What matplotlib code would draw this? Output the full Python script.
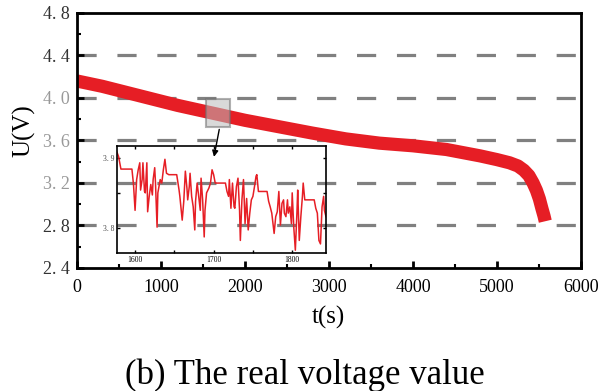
import matplotlib
matplotlib.use("Agg")
import matplotlib.pyplot as plt
from matplotlib.patches import Rectangle

# main discharge curve
t_main = [0, 300, 600, 900, 1200, 1600, 2000, 2400, 2800, 3200, 3600, 4000,
          4400, 4800, 5000, 5150, 5250, 5320, 5380, 5430, 5470, 5505, 5535, 5560, 5575]
v_main = [4.16, 4.11, 4.05, 3.99, 3.93, 3.86, 3.79, 3.73, 3.67, 3.615, 3.575, 3.55,
          3.515, 3.455, 3.42, 3.39, 3.36, 3.32, 3.27, 3.20, 3.13, 3.05, 2.96, 2.89, 2.84]

# zoomed section 1577-1843 s
t_zoom = [1577, 1579, 1582, 1596, 1598, 1600, 1602, 1604, 1606, 1607, 1609, 1610,
          1612, 1613, 1615, 1616, 1618, 1620, 1622, 1623, 1625, 1626, 1628, 1629,
          1632, 1634, 1636, 1638, 1640, 1643, 1653, 1656, 1657, 1660, 1662, 1664,
          1666, 1667, 1669, 1670, 1672, 1674, 1676, 1677, 1679, 1681, 1683, 1684,
          1686, 1688, 1689, 1691, 1694, 1696, 1698, 1700, 1702, 1715, 1717, 1719,
          1720, 1722, 1724, 1726, 1727, 1729, 1731, 1733, 1734, 1736, 1738, 1740,
          1742, 1744, 1746, 1748, 1750, 1752, 1754, 1755, 1757, 1760, 1768, 1770,
          1772, 1774, 1777, 1779, 1781, 1783, 1785, 1787, 1789, 1790, 1792, 1794,
          1795, 1797, 1799, 1800, 1802, 1804, 1806, 1807, 1809, 1811, 1813, 1814,
          1816, 1828, 1830, 1832, 1834, 1836, 1838, 1840, 1841, 1843]
v_zoom = [3.908, 3.902, 3.884, 3.884, 3.862, 3.825, 3.869, 3.883, 3.893, 3.854, 3.869, 3.893,
          3.852, 3.850, 3.893, 3.823, 3.845, 3.862, 3.847, 3.869, 3.886, 3.864, 3.801, 3.850,
          3.869, 3.864, 3.883, 3.898, 3.878, 3.876, 3.876, 3.854, 3.845, 3.811, 3.838, 3.881,
          3.857, 3.840, 3.859, 3.878, 3.845, 3.830, 3.797, 3.838, 3.864, 3.845, 3.825, 3.871,
          3.840, 3.787, 3.825, 3.850, 3.857, 3.864, 3.883, 3.876, 3.864, 3.864, 3.852, 3.845,
          3.869, 3.828, 3.864, 3.830, 3.828, 3.859, 3.871, 3.825, 3.782, 3.840, 3.869, 3.806,
          3.842, 3.797, 3.821, 3.840, 3.845, 3.859, 3.874, 3.876, 3.852, 3.852, 3.852, 3.838,
          3.830, 3.821, 3.792, 3.816, 3.823, 3.852, 3.804, 3.835, 3.840, 3.821, 3.816, 3.840,
          3.821, 3.830, 3.806, 3.850, 3.801, 3.768, 3.821, 3.854, 3.782, 3.816, 3.845, 3.864,
          3.840, 3.840, 3.828, 3.821, 3.782, 3.777, 3.830, 3.845, 3.825, 3.816]

x_ticks = [0, 1000, 2000, 3000, 4000, 5000, 6000]
y_ticks = [2.4, 2.8, 3.2, 3.6, 4.0, 4.4, 4.8]
y_labels = ["2. 4", "2. 8", "3. 2", "3. 6", "4. 0", "4. 4", "4. 8"]
y_label_colors = ["#333333", "#333333", "#999999", "#999999", "#999999", "#333333", "#333333"]

red = "#e61e25"
serif = ["Liberation Serif", "DejaVu Serif"]

fig = plt.figure(figsize=(6.1, 3.91), dpi=100)
ax = fig.add_axes([0.1262, 0.3146, 0.8262, 0.6522])

for y in y_ticks[1:-1]:
    ax.axhline(y, color="#808080", lw=2.3, dashes=(6, 6.5), zorder=1)

ax.plot(t_main, v_main, color=red, lw=9.5, solid_capstyle="butt",
        solid_joinstyle="round", zorder=2)

ax.set_xlim(0, 6000)
ax.set_ylim(2.4, 4.8)
ax.set_xticks(x_ticks)
ax.set_xticks([500, 1500, 2500, 3500, 4500, 5500], minor=True)
ax.set_yticks(y_ticks)
ax.set_yticks([2.6, 3.0, 3.4, 3.8, 4.2, 4.6], minor=True)
ax.set_xticklabels([str(v) for v in x_ticks], family=serif, fontsize=13)
ax.set_yticklabels(y_labels, family=serif, fontsize=13)
for lab, c in zip(ax.get_yticklabels(), y_label_colors):
    lab.set_color(c)
ax.tick_params(which="major", direction="in", length=5, width=2, pad=8)
ax.tick_params(which="minor", direction="in", length=3, width=1.5)
ax.tick_params(axis="y", pad=5)
for s in ax.spines.values():
    s.set_linewidth(2)

# zoom box and arrow
ax.add_patch(Rectangle((1540, 3.73), 280, 0.26, facecolor="#bbbbbb", alpha=0.55,
                       edgecolor="#707070", lw=1.5, zorder=3))
ax.annotate("", xy=(1625, 3.42), xytext=(1700, 3.73),
            arrowprops=dict(arrowstyle="-|>", color="black", lw=1.0, mutation_scale=9),
            zorder=5, annotation_clip=False)

fig.text(0.04, 0.667, "U(V)", rotation=90, family=serif, fontsize=18,
         ha="center", va="center")
fig.text(0.538, 0.187, "t(s)", family=serif, fontsize=18, ha="center", va="center")
fig.text(0.50, 0.04, "(b) The real voltage value", family=serif, fontsize=25,
         ha="center", va="center")

# inset
axin = fig.add_axes([0.1918, 0.3529, 0.3426, 0.2737])
axin.set_facecolor("none")
axin.plot(t_zoom, v_zoom, color=red, lw=1.1)
axin.set_xlim(1577, 1843)
axin.set_ylim(3.764, 3.917)
axin.set_xticks([1600, 1700, 1800])
axin.set_xticks([1650, 1750], minor=True)
axin.set_yticks([3.8, 3.9])
axin.set_yticks([3.85], minor=True)
axin.set_xticklabels(["1600", "1700", "1800"], family=serif, fontsize=5.5)
axin.set_yticklabels(["3. 8", "3. 9"], family=serif, fontsize=5.5, color="#444444")
axin.tick_params(which="both", direction="in", top=True, right=True, length=2.5,
                 width=1, pad=2)
for s in axin.spines.values():
    s.set_linewidth(1.2)

fig.savefig("out.png", dpi=100)
